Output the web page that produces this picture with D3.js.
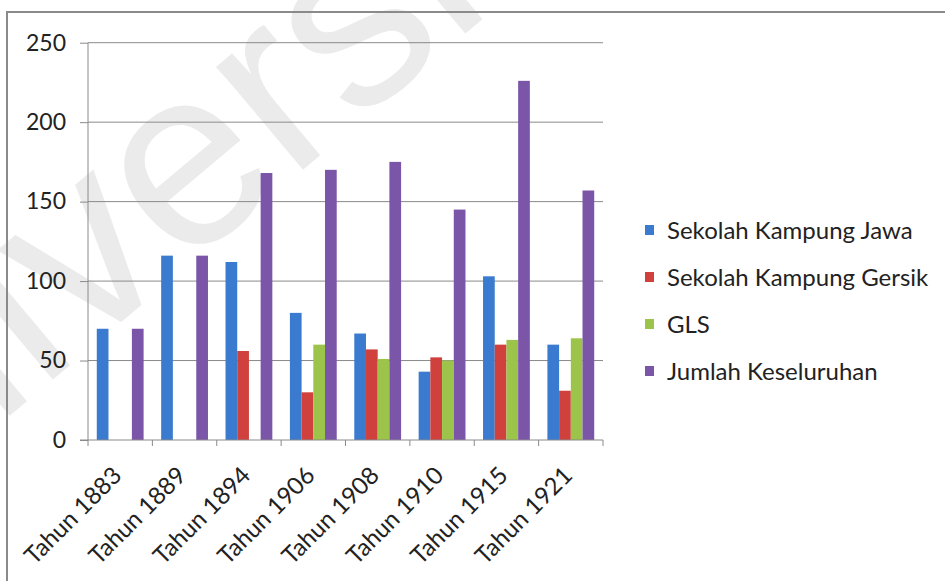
<!DOCTYPE html>
<html>
<head>
<meta charset="utf-8">
<script src="https://cdn.jsdelivr.net/npm/d3@7"></script>
<style>
  html, body { margin: 0; padding: 0; background: #fff; }
  svg { display: block; }
</style>
</head>
<body>
<svg id="chart" width="945" height="581"></svg>
<script>
const categories = ["Tahun 1883", "Tahun 1889", "Tahun 1894", "Tahun 1906", "Tahun 1908", "Tahun 1910", "Tahun 1915", "Tahun 1921"];
const seriesNames = ["Sekolah Kampung Jawa", "Sekolah Kampung Gersik", "GLS", "Jumlah Keseluruhan"];
const sekolahJawa = [70, 116, 112, 80, 67, 43, 103, 60];
const sekolahGersik = [null, null, 56, 30, 57, 52, 60, 31];
const gls = [null, null, null, 60, 51, 50, 63, 64];
const jumlah = [70, 116, 168, 170, 175, 145, 226, 157];
const yTicks = [0, 50, 100, 150, 200, 250];
const colors = ["#3b7bcf", "#d0403c", "#9cc44a", "#7b56a8"];

const seriesValues = [sekolahJawa, sekolahGersik, gls, jumlah];

const svg = d3.select("#chart");
const FONT = "Lato, 'Open Sans', sans-serif";

// watermark
svg.append("text")
  .attr("transform", "translate(-210,600) rotate(-40)")
  .attr("font-family", "'Liberation Sans', Arial, sans-serif")
  .attr("font-size", 255)
  .attr("fill", "#ebebeb")
  .text("University");

// outer border
svg.append("path")
  .attr("d", "M7,581 L7,12 L945,12")
  .attr("fill", "none")
  .attr("stroke", "#8a8a8a")
  .attr("stroke-width", 2);

const plotLeft = 88, plotRight = 603, plotTop = 42.7, plotBottom = 440;

const x = d3.scaleBand().domain(categories).range([plotLeft, plotRight]).paddingInner(0).paddingOuter(0);
const xs = d3.scaleBand().domain(seriesNames).range([0, x.bandwidth()]).paddingInner(0).paddingOuter(0.75);
const y = d3.scaleLinear().domain([0, 250]).range([plotBottom, plotTop]);

// y axis
const yAxis = d3.axisLeft(y).tickValues(yTicks).tickSize(8).tickPadding(14).tickFormat(d3.format("d"));
const gy = svg.append("g").attr("transform", `translate(${plotLeft},0)`).call(yAxis);
gy.select(".domain").attr("stroke", "#8a8a8a").attr("d", `M0,${plotBottom}V${plotTop}`);
gy.selectAll(".tick line").attr("stroke", "#8a8a8a");
gy.selectAll(".tick text").attr("font-family", FONT).attr("font-size", 23).attr("fill", "#222");

// gridlines
svg.append("g").selectAll("line").data(yTicks.filter(d => d > 0)).join("line")
  .attr("x1", plotLeft).attr("x2", plotRight)
  .attr("y1", d => y(d)).attr("y2", d => y(d))
  .attr("stroke", "#8a8a8a").attr("stroke-width", 1);

// bars
const groups = svg.append("g").selectAll("g").data(categories).join("g")
  .attr("transform", d => `translate(${x(d)},0)`);
groups.selectAll("rect")
  .data((c, i) => seriesNames.map((s, j) => ({ s, v: seriesValues[j][i], color: colors[j] })).filter(d => d.v != null))
  .join("rect")
  .attr("x", d => xs(d.s))
  .attr("width", xs.bandwidth())
  .attr("y", d => y(d.v))
  .attr("height", d => y(0) - y(d.v))
  .attr("fill", d => d.color);

// x axis
const xAxis = d3.axisBottom(x).tickSize(0).tickFormat(d => d);
const gx = svg.append("g").attr("transform", `translate(0,${plotBottom})`).call(xAxis);
gx.select(".domain").remove();
svg.append("line").attr("x1", plotLeft - 8).attr("x2", plotRight).attr("y1", plotBottom).attr("y2", plotBottom).attr("stroke", "#8a8a8a");
const bounds = categories.map(c => x(c)).concat([plotRight]);
svg.append("g").selectAll("line").data(bounds).join("line")
  .attr("x1", d => d).attr("x2", d => d)
  .attr("y1", plotBottom).attr("y2", plotBottom + 6)
  .attr("stroke", "#8a8a8a");
gx.selectAll(".tick text")
  .attr("font-family", FONT).attr("font-size", 24).attr("fill", "#222")
  .attr("text-anchor", "end")
  .attr("x", 0).attr("y", 0)
  .attr("dy", null)
  .attr("transform", "translate(3,37) rotate(-45)");

// legend
const legend = svg.append("g").selectAll("g").data(seriesNames).join("g")
  .attr("transform", (d, i) => `translate(645,${230 + i * 47})`);
legend.append("rect").attr("x", 0).attr("y", -5).attr("width", 9).attr("height", 10)
  .attr("fill", (d, i) => colors[i]);
legend.append("text").attr("x", 22).attr("y", 0).attr("dy", "0.36em")
  .attr("font-family", FONT).attr("font-size", 24).attr("fill", "#222")
  .text(d => d);
</script>
</body>
</html>
